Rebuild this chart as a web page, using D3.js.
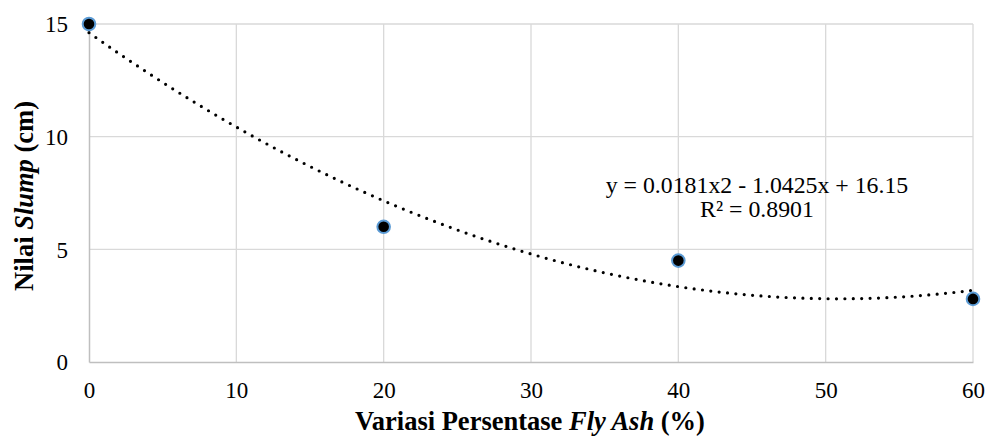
<!DOCTYPE html>
<html>
<head>
<meta charset="utf-8">
<script src="https://cdn.jsdelivr.net/npm/d3@7"></script>
<style>
    body { margin: 0; background: #fff; }
    text { font-family: "Liberation Serif", "Times New Roman", serif; fill: #000; }
</style>
</head>
<body>
<svg id="chart"></svg>
<script>
// data
const flyAsh = [0, 20, 40, 60];
const slump = [15, 6, 4.5, 2.8];

const xTicks = [0, 10, 20, 30, 40, 50, 60];
const yTicks = [0, 5, 10, 15];

const trendText = ["y = 0.0181x2 - 1.0425x + 16.15", "R² = 0.8901"];

const width = 988;
const height = 438;
const margin = {left: 89, right: 15, top: 24, bottom: 76};

const svg = d3.select("#chart").attr("width", width).attr("height", height);

const x = d3.scaleLinear().domain([0, 60]).range([margin.left, width - margin.right]);
const y = d3.scaleLinear().domain([0, 15]).range([height - margin.bottom, margin.top]);

// grid
svg.append("g")
    .selectAll("line.v")
    .data(xTicks.slice(1))
    .join("line")
    .attr("x1", d => x(d)).attr("x2", d => x(d))
    .attr("y1", y(0)).attr("y2", y(15))
    .attr("stroke", "#d9d9d9").attr("stroke-width", 1.3);

svg.append("g")
    .selectAll("line.h")
    .data(yTicks.slice(1))
    .join("line")
    .attr("x1", x(0)).attr("x2", x(60))
    .attr("y1", d => y(d)).attr("y2", d => y(d))
    .attr("stroke", "#d9d9d9").attr("stroke-width", 1.3);

// axes (d3 axes, then restyled)
const xAxis = svg.append("g")
    .attr("transform", `translate(0,${y(0)})`)
    .call(d3.axisBottom(x).tickValues(xTicks).tickSize(0).tickPadding(20));

const yAxis = svg.append("g")
    .attr("transform", `translate(${x(0)},0)`)
    .call(d3.axisLeft(y).tickValues(yTicks).tickSize(0).tickPadding(21));

[xAxis, yAxis].forEach(g => {
    g.attr("font-family", null).attr("font-size", null);
    g.select(".domain").attr("stroke", "#bfbfbf").attr("stroke-width", 1.5);
    g.selectAll("text")
        .style("font-family", "'Liberation Serif', serif")
        .style("font-size", "23px")
        .attr("fill", "#000");
});
yAxis.selectAll("text").attr("dy", "0.34em");

// quadratic least squares trendline computed from the points
function fitQuadratic(xs, ys)
{
    let s = [0, 0, 0, 0, 0], t = [0, 0, 0];
    for (let i = 0; i < xs.length; ++i)
    {
        for (let k = 0; k < 5; ++k) s[k] += xs[i] ** k;
        for (let k = 0; k < 3; ++k) t[k] += ys[i] * xs[i] ** k;
    }
    const m = [[s[0], s[1], s[2], t[0]], [s[1], s[2], s[3], t[1]], [s[2], s[3], s[4], t[2]]];
    for (let i = 0; i < 3; ++i)
    {
        for (let j = i + 1; j < 3; ++j)
        {
            const f = m[j][i] / m[i][i];
            for (let k = i; k < 4; ++k) m[j][k] -= f * m[i][k];
        }
    }
    const c = [0, 0, 0];
    for (let i = 2; i >= 0; --i)
    {
        let v = m[i][3];
        for (let k = i + 1; k < 3; ++k) v -= m[i][k] * c[k];
        c[i] = v / m[i][i];
    }
    return c;
}

const coef = fitQuadratic(flyAsh, slump);
const curveX = d3.range(0, 60.01, 0.5);

svg.append("path")
    .datum(curveX)
    .attr("fill", "none")
    .attr("stroke", "#000")
    .attr("stroke-width", 3.2)
    .attr("stroke-linecap", "round")
    .attr("stroke-dasharray", "0,8.4")
    .attr("d", d3.line()
        .x(d => x(d))
        .y(d => y(coef[0] + coef[1] * d + coef[2] * d * d)));

// points
svg.append("g")
    .selectAll("circle")
    .data(flyAsh)
    .join("circle")
    .attr("cx", d => x(d))
    .attr("cy", (d, i) => y(slump[i]))
    .attr("r", 6.3)
    .attr("fill", "#000")
    .attr("stroke", "#5b9bd5")
    .attr("stroke-width", 2);

// trendline label
svg.append("text")
    .attr("x", 757)
    .attr("y", 193)
    .attr("text-anchor", "middle")
    .style("font-size", "23.8px")
    .text(trendText[0]);

svg.append("text")
    .attr("x", 757)
    .attr("y", 217)
    .attr("text-anchor", "middle")
    .style("font-size", "23.8px")
    .text(trendText[1]);

// axis titles
const xTitle = svg.append("text")
    .attr("x", 530)
    .attr("y", 430)
    .attr("text-anchor", "middle")
    .style("font-size", "26.5px")
    .style("font-weight", "bold");
xTitle.append("tspan").text("Variasi Persentase ");
xTitle.append("tspan").style("font-style", "italic").text("Fly Ash");
xTitle.append("tspan").text(" (%)");

const yTitle = svg.append("text")
    .attr("transform", `translate(33,196) rotate(-90)`)
    .attr("text-anchor", "middle")
    .style("font-size", "26.5px")
    .style("font-weight", "bold");
yTitle.append("tspan").text("Nilai ");
yTitle.append("tspan").style("font-style", "italic").text("Slump");
yTitle.append("tspan").text(" (cm)");
</script>
</body>
</html>
